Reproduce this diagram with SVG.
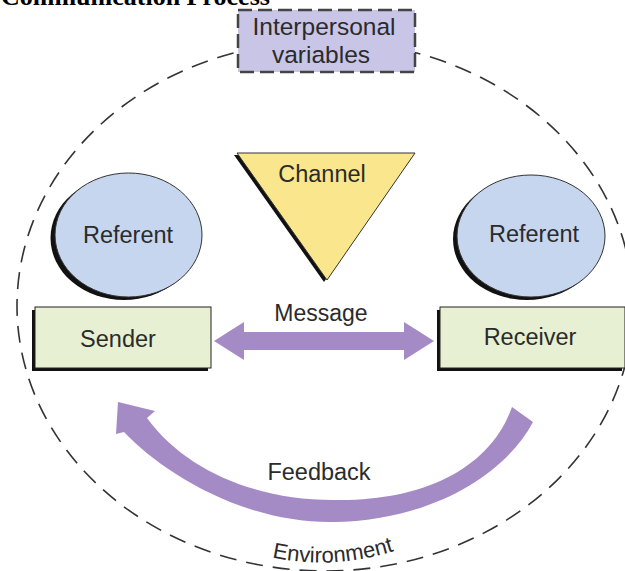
<svg xmlns="http://www.w3.org/2000/svg" width="625" height="571" viewBox="0 0 625 571">
  <style>
    .lbl { font-family: "Liberation Sans", Arial, sans-serif; font-size: 23.5px; fill: #2b2b2b; text-anchor: middle; }
    .big { font-size: 24.5px; }
    .env { font-size: 22px; }
    .msg { font-size: 23px; }
    .shadow { fill: #111; }
    .ref { fill: #c6d6ef; stroke: #333; stroke-width: 1; }
    .box { fill: #e7f0d2; stroke: #222; stroke-width: 1; }
    .arrow { fill: #a48bc5; }
  </style>
  <rect width="625" height="571" fill="#ffffff"/>
  <text x="1" y="5" font-family="'Liberation Serif', 'Times New Roman', serif" font-weight="bold" font-size="26" fill="#000">Communication Process</text>

  <g id="environment">
    <ellipse cx="325" cy="306" rx="308" ry="265" fill="none" stroke="#333" stroke-width="1.6" stroke-dasharray="17 10"/>
    <path id="envPath" d="M 266,556 Q 332,572 400,549" fill="none"/>
    <text class="lbl env"><textPath href="#envPath" startOffset="50%">Environment</textPath></text>
  </g>

  <g id="interpersonal">
    <rect x="238" y="10" width="177" height="62" fill="#c9c5e6" stroke="#444" stroke-width="2.5" stroke-dasharray="14 6"/>
    <text class="lbl big" x="324" y="35">Interpersonal</text>
    <text class="lbl big" x="321" y="63">variables</text>
  </g>

  <g id="channel">
    <polygon class="shadow" points="234,155 412,155 324,282"/>
    <polygon points="237,153 415,153 327,280" fill="#fae68c" stroke="#333" stroke-width="1"/>
    <text class="lbl" x="322" y="182">Channel</text>
  </g>

  <g id="referent-left">
    <ellipse class="shadow" cx="124" cy="238" rx="73.5" ry="62"/>
    <ellipse class="ref" cx="128.5" cy="235" rx="73.5" ry="62"/>
    <text class="lbl" x="128" y="243">Referent</text>
  </g>

  <g id="referent-right">
    <ellipse class="shadow" cx="527" cy="239" rx="74" ry="61"/>
    <ellipse class="ref" cx="531" cy="236" rx="74" ry="61"/>
    <text class="lbl" x="534" y="242">Referent</text>
  </g>

  <g id="sender">
    <rect class="shadow" x="32" y="310" width="176" height="61"/>
    <rect class="box" x="35" y="307" width="176" height="61"/>
    <text class="lbl" x="118" y="347">Sender</text>
  </g>

  <g id="receiver">
    <rect class="shadow" x="437" y="310" width="185" height="61"/>
    <rect class="box" x="440" y="307" width="185" height="61"/>
    <text class="lbl" x="530" y="345">Receiver</text>
  </g>

  <g id="connectors">
    <g id="message">
      <polygon class="arrow" points="214,341 244,322 244,332 404,332 404,322 434,341 404,360 404,350 244,350 244,360"/>
      <text class="lbl msg" x="321" y="321">Message</text>
    </g>
    <g id="feedback">
      <path class="arrow" d="M 533,422 C 505,475 430,521 333,522 C 240,523 160,470 124,432 L 116,434 L 118,402 L 155,411 L 147,418 C 185,470 255,500 333,500 C 420,502 490,470 512,407 Z"/>
      <text class="lbl" x="319" y="480">Feedback</text>
    </g>
  </g>
</svg>
